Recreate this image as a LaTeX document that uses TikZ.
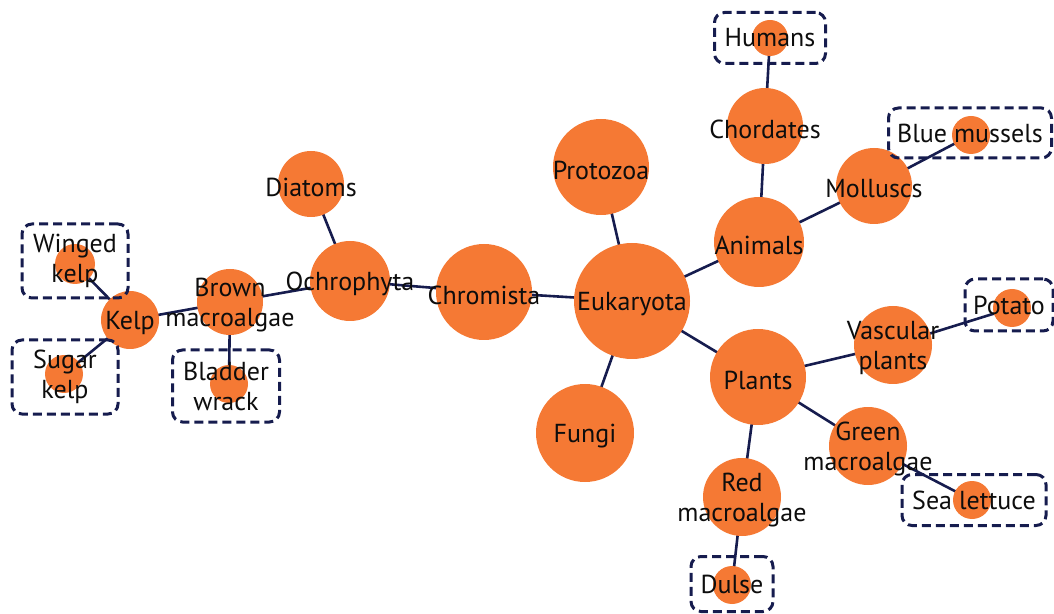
\documentclass[tikz,border=0pt]{standalone}
\usepackage{fontspec}
\setmainfont{PT Sans}
\usepackage{xcolor}
\usetikzlibrary{backgrounds}
\definecolor{taxorange}{RGB}{245,121,52}
\definecolor{edgenavy}{RGB}{22,28,78}

\begin{document}
\begin{tikzpicture}[
    x=0.5pt,y=-0.5pt,
    taxon/.style={circle,fill=taxorange,inner sep=0pt},
    lbl/.style={font=\fontsize{13}{15}\selectfont,text=black!95,align=center,inner sep=0pt,yshift=-1.5pt},
    leafbox/.style={draw=edgenavy,line width=1.5pt,dash pattern=on 4.5pt off 2.5pt,
      rounded corners=5pt,font=\fontsize{13}{15}\selectfont,text=black!95,align=center,
      inner xsep=4pt,inner ysep=0pt},
    link/.style={draw=edgenavy,line width=1.3pt}
  ]
  \useasboundingbox (0,0) rectangle (1054,614);
  % circles
  \node[taxon,minimum size=58pt] (euk) at (632,301) {};
  \node[taxon,minimum size=48pt] (chrom) at (484,292) {};
  \node[taxon,minimum size=48pt] (proto) at (601,167) {};
  \node[taxon,minimum size=49pt] (fungi) at (585,433) {};
  \node[taxon,minimum size=45pt] (anim) at (759,242) {};
  \node[taxon,minimum size=48pt] (plants) at (758,377) {};
  \node[taxon,minimum size=39pt] (vasc) at (893,345) {};
  \node[taxon,minimum size=39pt] (green) at (868,446) {};
  \node[taxon,minimum size=39pt] (red) at (742,497) {};
  \node[taxon,minimum size=38pt] (chord) at (765,126) {};
  \node[taxon,minimum size=38pt] (moll) at (874,186) {};
  \node[taxon,minimum size=40pt] (ochro) at (350,281) {};
  \node[taxon,minimum size=33pt] (diat) at (311,184) {};
  \node[taxon,minimum size=33pt] (brown) at (230,302) {};
  \node[taxon,minimum size=29pt] (kelp) at (130,320) {};
  % leaves
  \node[taxon,minimum size=18pt] (humans) at (770,38) {};
  \node[taxon,minimum size=19pt] (mussels) at (971,135) {};
  \node[taxon,minimum size=19pt] (potato) at (1012,308) {};
  \node[taxon,minimum size=19pt] (sealet) at (972,500) {};
  \node[taxon,minimum size=19pt] (dulse) at (732,585) {};
  \node[taxon,minimum size=20pt] (winged) at (75,264) {};
  \node[taxon,minimum size=19pt] (sugar) at (64,374) {};
  \node[taxon,minimum size=19pt] (bladder) at (229,384) {};
  % links
  \begin{pgfonlayer}{background}
    \path[link]
      (euk.center) -- (chrom.center)
      (euk.center) -- (proto.center)
      (euk.center) -- (fungi.center)
      (euk.center) -- (anim.center)
      (euk.center) -- (plants.center)
      (chrom.center) -- (ochro.center)
      (ochro.center) -- (diat.center)
      (ochro.center) -- (brown.center)
      (brown.center) -- (kelp.center)
      (brown.center) -- (bladder.center)
      (kelp.center) -- (winged.center)
      (kelp.center) -- (sugar.center)
      (anim.center) -- (chord.center)
      (chord.center) -- (humans.center)
      (anim.center) -- (moll.center)
      (moll.center) -- (mussels.center)
      (plants.center) -- (vasc.center)
      (vasc.center) -- (potato.center)
      (plants.center) -- (green.center)
      (green.center) -- (sealet.center)
      (plants.center) -- (red.center)
      (red.center) -- (dulse.center);
  \end{pgfonlayer}
  % labels
  \node[lbl] (euk-t) at (euk) {Eukaryota};
  \node[lbl] (chrom-t) at (chrom) {Chromista};
  \node[lbl] (proto-t) at (proto) {Protozoa};
  \node[lbl] (fungi-t) at (fungi) {Fungi};
  \node[lbl] (anim-t) at (anim) {Animals};
  \node[lbl] (plants-t) at (plants) {Plants};
  \node[lbl] (vasc-t) at (vasc) {Vascular\\plants};
  \node[lbl] (green-t) at (green) {Green\\macroalgae};
  \node[lbl] (red-t) at (red) {Red\\macroalgae};
  \node[lbl] (chord-t) at (chord) {Chordates};
  \node[lbl] (moll-t) at (moll) {Molluscs};
  \node[lbl] (ochro-t) at (ochro) {Ochrophyta};
  \node[lbl] (diat-t) at (diat) {Diatoms};
  \node[lbl] (brown-t) at (brown) {Brown\\macroalgae};
  \node[lbl] (kelp-t) at (kelp) {Kelp};
  % dashed leaf boxes
  \node[leafbox,minimum width=55.5pt,minimum height=25.5pt] (humans-b) at (770,38) {Humans};
  \node[leafbox,minimum width=81.5pt,minimum height=25pt] (mussels-b) at (970,133) {Blue mussels};
  \node[leafbox,minimum width=44pt,minimum height=26pt] (potato-b) at (1009,305) {Potato};
  \node[leafbox,minimum width=72pt,minimum height=25.5pt] (sealet-b) at (974,500) {Sea lettuce};
  \node[leafbox,minimum width=41pt,minimum height=27.5pt] (dulse-b) at (732,584) {Dulse};
  \node[leafbox,minimum width=53pt,minimum height=37pt] (winged-b) at (75,261) {Winged\\kelp};
  \node[leafbox,minimum width=53pt,minimum height=37pt] (sugar-b) at (65,377) {Sugar\\kelp};
  \node[leafbox,minimum width=53.5pt,minimum height=36pt] (bladder-b) at (226,386) {Bladder\\wrack};
\end{tikzpicture}
\end{document}
